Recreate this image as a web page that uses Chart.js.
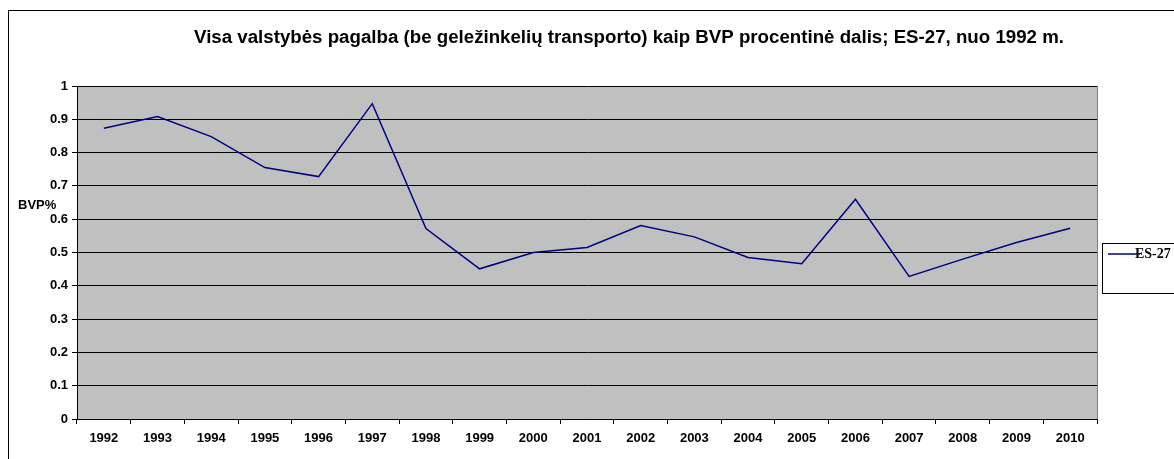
<!DOCTYPE html>
<html>
<head>
<meta charset="utf-8">
<script src="https://cdn.jsdelivr.net/npm/chart.js@4"></script>
<style>
    html, body { margin: 0; padding: 0; background: #fff; }
    #chartBox { width: 1174px; height: 459px; }
</style>
</head>
<body>
<div id="chartBox"><canvas id="bvpChart" width="1174" height="459"></canvas></div>
<script>
// Duomenys
var years = ['1992', '1993', '1994', '1995', '1996', '1997', '1998', '1999', '2000', '2001',
    '2002', '2003', '2004', '2005', '2006', '2007', '2008', '2009', '2010'];
var es27 = [0.873, 0.908, 0.848, 0.755, 0.728, 0.947, 0.572, 0.451, 0.500, 0.515,
    0.581, 0.547, 0.485, 0.466, 0.660, 0.428, 0.480, 0.530, 0.573];
var yTicks = [0, 0.1, 0.2, 0.3, 0.4, 0.5, 0.6, 0.7, 0.8, 0.9, 1];

var chartTitle = 'Visa valstybės pagalba (be geležinkelių transporto) kaip BVP procentinė dalis; ES-27, nuo 1992 m.';
var yLabel = 'BVP%';
var seriesName = 'ES-27';

// fonas, rėmeliai, pavadinimas, legenda
var decorPlugin = {
    id: 'decor',
    beforeDraw: function (chart) {
        var ctx = chart.ctx;
        var a = chart.chartArea;
        ctx.save();
        ctx.fillStyle = '#fff';
        ctx.fillRect(0, 0, chart.width, chart.height);
        ctx.strokeStyle = '#000';
        ctx.lineWidth = 1;
        ctx.strokeRect(8.5, 10.5, 1300, 600);
        ctx.fillStyle = '#c0c0c0';
        ctx.fillRect(a.left, a.top, a.right - a.left, a.bottom - a.top);
        ctx.restore();
    },
    afterDraw: function (chart) {
        var ctx = chart.ctx;
        var a = chart.chartArea;
        ctx.save();
        // dešinysis kraštas
        ctx.strokeStyle = '#808080';
        ctx.beginPath();
        ctx.moveTo(Math.round(a.right) + 0.5, a.top);
        ctx.lineTo(Math.round(a.right) + 0.5, a.bottom);
        ctx.stroke();

        ctx.fillStyle = '#000';
        ctx.font = 'bold 18.7px "Liberation Sans", Arial, sans-serif';
        ctx.textAlign = 'center';
        ctx.textBaseline = 'middle';
        ctx.fillText(chartTitle, 629, 38);

        ctx.font = 'bold 13px "Liberation Sans", Arial, sans-serif';
        ctx.textAlign = 'left';
        ctx.fillText(yLabel, 18, 205);

        // legenda
        ctx.strokeStyle = '#000';
        ctx.lineWidth = 1;
        ctx.strokeRect(1102.5, 243.5, 100, 50);
        ctx.strokeStyle = '#000080';
        ctx.lineWidth = 1.5;
        ctx.beginPath();
        ctx.moveTo(1108, 254);
        ctx.lineTo(1140, 254);
        ctx.stroke();
        ctx.font = 'bold 14px "Liberation Serif", "Times New Roman", serif';
        ctx.fillText(seriesName, 1135, 254);
        ctx.restore();
    }
};

var bvpChart = new Chart(document.getElementById('bvpChart'), {
    type: 'line',
    data: {
        labels: years,
        datasets: [{
            label: seriesName,
            data: es27,
            borderColor: '#000080',
            backgroundColor: 'transparent',
            borderWidth: 1.5,
            pointRadius: 0,
            tension: 0,
            fill: false
        }]
    },
    options: {
        responsive: false,
        animation: false,
        layout: { padding: { top: 86, right: 77, left: 0, bottom: 0 } },
        plugins: {
            legend: { display: false },
            title: { display: false },
            tooltip: { enabled: false }
        },
        scales: {
            x: {
                offset: true,
                afterFit: function (scale) { scale.height = 40; },
                grid: {
                    offset: true,
                    drawOnChartArea: false,
                    drawTicks: true,
                    tickLength: 5,
                    color: '#000'
                },
                border: { color: '#000', width: 1 },
                ticks: {
                    color: '#000',
                    padding: 7,
                    maxRotation: 0,
                    autoSkip: false,
                    font: { family: '"Liberation Sans", Arial, sans-serif', size: 13, weight: 'bold' }
                }
            },
            y: {
                min: 0,
                max: 1,
                afterFit: function (scale) { scale.width = 77; },
                afterBuildTicks: function (scale) {
                    scale.ticks = yTicks.map(function (v) { return { value: v }; });
                },
                grid: {
                    color: '#000',
                    tickLength: 5,
                    drawTicks: true
                },
                border: { color: '#000', width: 1 },
                ticks: {
                    color: '#000',
                    padding: 4,
                    callback: function (v) { return String(Math.round(v * 10) / 10); },
                    font: { family: '"Liberation Sans", Arial, sans-serif', size: 13, weight: 'bold' }
                }
            }
        }
    },
    plugins: [decorPlugin]
});
</script>
</body>
</html>
